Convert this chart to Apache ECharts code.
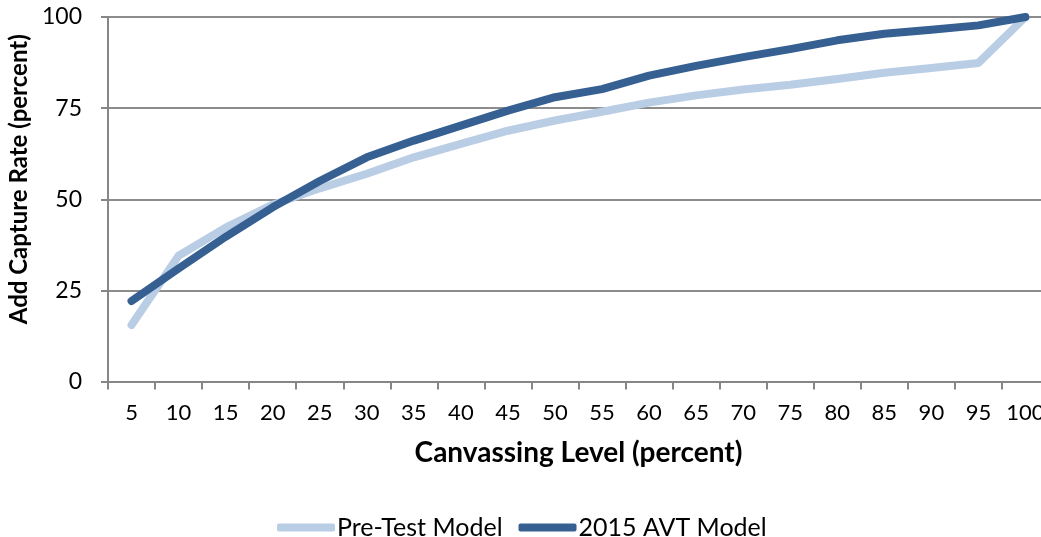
<!DOCTYPE html>
<html>
<head>
<meta charset="utf-8">
<script src="https://cdn.jsdelivr.net/npm/echarts@6/dist/echarts.min.js"></script>
<style>html,body{margin:0;padding:0;background:#fff}#c{width:1041px;height:537px}</style>
</head>
<body>
<div id="c"></div>
<script>
const categories = ['5','10','15','20','25','30','35','40','45','50','55','60','65','70','75','80','85','90','95','100'];
const preTestModel = [15.5, 34.5, 42.2, 48.5, 53.0, 57.0, 61.5, 65.2, 68.8, 71.6, 74.0, 76.5, 78.5, 80.1, 81.4, 83.0, 84.7, 86.0, 87.4, 100];
const avtModel2015 = [22.1, 31.0, 39.7, 47.8, 55.0, 61.5, 66.1, 70.2, 74.3, 78.0, 80.2, 83.9, 86.6, 89.0, 91.2, 93.6, 95.4, 96.5, 97.7, 100];
const yTicks = [0, 25, 50, 75, 100];
const seriesNames = ['Pre-Test Model', '2015 AVT Model'];

const font = 'Lato, "Open Sans", sans-serif';
const chart = echarts.init(document.getElementById('c'), null, {renderer: 'canvas'});
chart.setOption({
  animation: false,
  backgroundColor: '#ffffff',
  grid: {left: 108, width: 941, top: 17, height: 364.5, containLabel: false, outerBoundsMode: 'none'},
  legend: {
    top: 510, left: 272,
    itemWidth: 58, itemHeight: 8, itemGap: 16,
    icon: 'roundRect',
    textStyle: {fontFamily: font, fontSize: 25, color: '#000', padding: [0,0,0,-3]},
    data: seriesNames
  },
  xAxis: {
    type: 'category',
    data: categories,
    boundaryGap: true,
    name: 'Canvassing Level (percent)',
    nameLocation: 'middle',
    nameGap: 57,
    nameTextStyle: {fontFamily: font, fontSize: 28, fontWeight: 'bold', color: '#000', verticalAlign: 'top'},
    axisLine: {lineStyle: {color: '#868686', width: 2}},
    axisTick: {show: true, length: 8, alignWithLabel: false, interval: 0, lineStyle: {color: '#868686', width: 2}},
    axisLabel: {fontFamily: font, fontSize: 22, color: '#000', margin: 20, interval: 0}
  },
  yAxis: {
    type: 'value',
    min: yTicks[0], max: yTicks[yTicks.length-1], interval: 25,
    name: 'Add Capture Rate (percent)',
    nameLocation: 'middle',
    nameGap: 75,
    nameRotate: 90,
    nameTextStyle: {fontFamily: font, fontSize: 24, fontWeight: 'bold', color: '#000', padding: [0,0,0,40]},
    axisLine: {show: true, lineStyle: {color: '#868686', width: 2}},
    axisTick: {show: true, length: 7, lineStyle: {color: '#868686', width: 2}},
    axisLabel: {fontFamily: font, fontSize: 23, color: '#000', margin: 26},
    splitLine: {show: true, lineStyle: {color: '#8c8c8c', width: 2}}
  },
  series: [
    {
      name: seriesNames[0], type: 'line', data: preTestModel,
      showSymbol: false, symbol: 'none',
      lineStyle: {color: '#B9CDE5', width: 8, cap: 'round', join: 'round'},
      itemStyle: {color: '#B9CDE5'}, z: 2
    },
    {
      name: seriesNames[1], type: 'line', data: avtModel2015,
      showSymbol: false, symbol: 'none',
      lineStyle: {color: '#376092', width: 8, cap: 'round', join: 'round'},
      itemStyle: {color: '#376092'}, z: 3
    }
  ]
});
</script>
</body>
</html>
